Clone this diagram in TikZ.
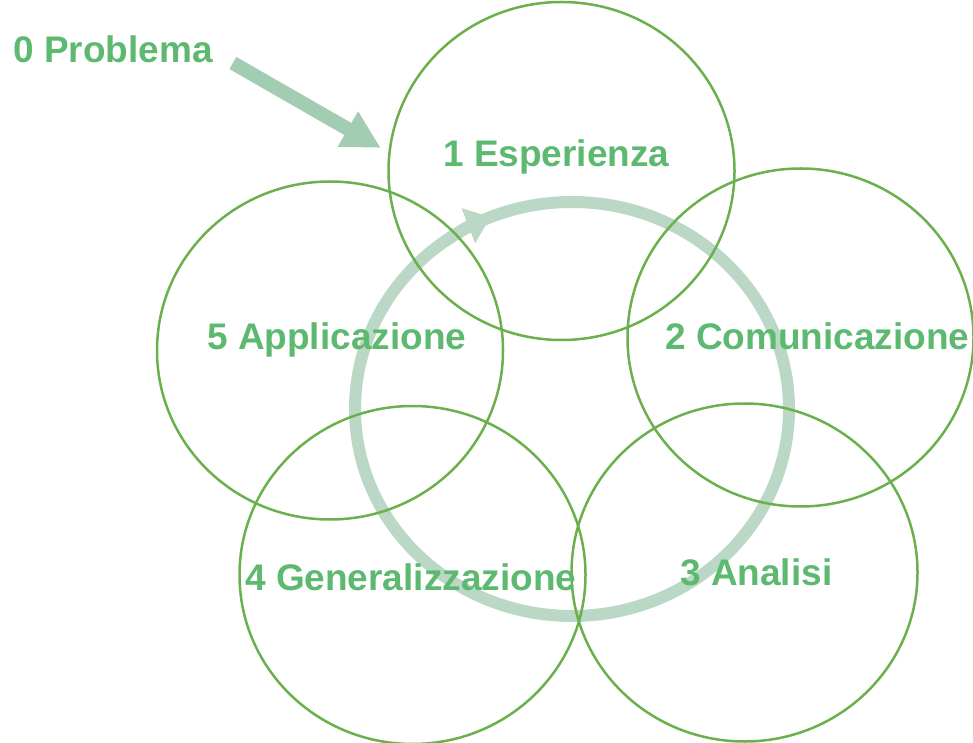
\documentclass[tikz,border=0pt]{standalone}
\usepackage{fontspec}
\setmainfont{Liberation Sans}
\usetikzlibrary{arrows.meta,shapes.geometric}

\definecolor{labelgreen}{RGB}{93,185,112}
\definecolor{ringgreen}{RGB}{106,176,76}
\definecolor{cyclegray}{RGB}{186,216,197}
\definecolor{arrowgreen}{RGB}{163,205,178}

\begin{document}
\begin{tikzpicture}[
    x=1pt, y=1pt,
    font=\fontsize{37}{44}\selectfont\bfseries,
    text=labelgreen,
    stagecircle/.style={
      ellipse,
      draw=ringgreen,
      line width=2.5pt,
      minimum width=346pt,
      minimum height=338pt,
      inner sep=0,
      outer sep=0
    },
    stagelabel/.style={anchor=base west, inner sep=0},
    cyclering/.style={draw=cyclegray, line width=12pt}
    ]
  \useasboundingbox (0,0) rectangle (973,742);

  % the cycle behind everything
  \coordinate (cyc) at (572,333);
  \draw[cyclering] (cyc) ellipse [x radius=217, y radius=207];
  \draw[cyclering, -{Triangle[length=24pt, width=36pt]}]
    ([shift={(126:217 and 207)}]cyc) arc[start angle=126, end angle=112, x radius=217, y radius=207];

  \node[stagecircle] (c1) at (561.5,571) {};
  \node[stagecircle] (c2) at (800.5,404.5) {};
  \node[stagecircle] (c3) at (744.5,169.5) {};
  \node[stagecircle] (c4) at (412.5,167) {};
  \node[stagecircle] (c5) at (330,391.5) {};

  \node[stagelabel] (prob) at (13,679) {0 Problema};
  \node[stagelabel] (l1) at (443,575) {1 Esperienza};
  \node[stagelabel] (l2) at (665,392) {2 Comunicazione};
  \node[stagelabel] (l3) at (680,157) {3 Analisi};
  \node[stagelabel] (l4) at (245,152) {4 Generalizzazione};
  \node[stagelabel] (l5) at (207,392) {5 Applicazione};

  \coordinate (probtail) at ([xshift=20pt]prob.base east);
  \draw[draw=arrowgreen, line width=14pt, shorten >=10pt,
        -{Triangle[length=38pt, width=38pt]}] (probtail) -- (c1.174);

\end{tikzpicture}
\end{document}
